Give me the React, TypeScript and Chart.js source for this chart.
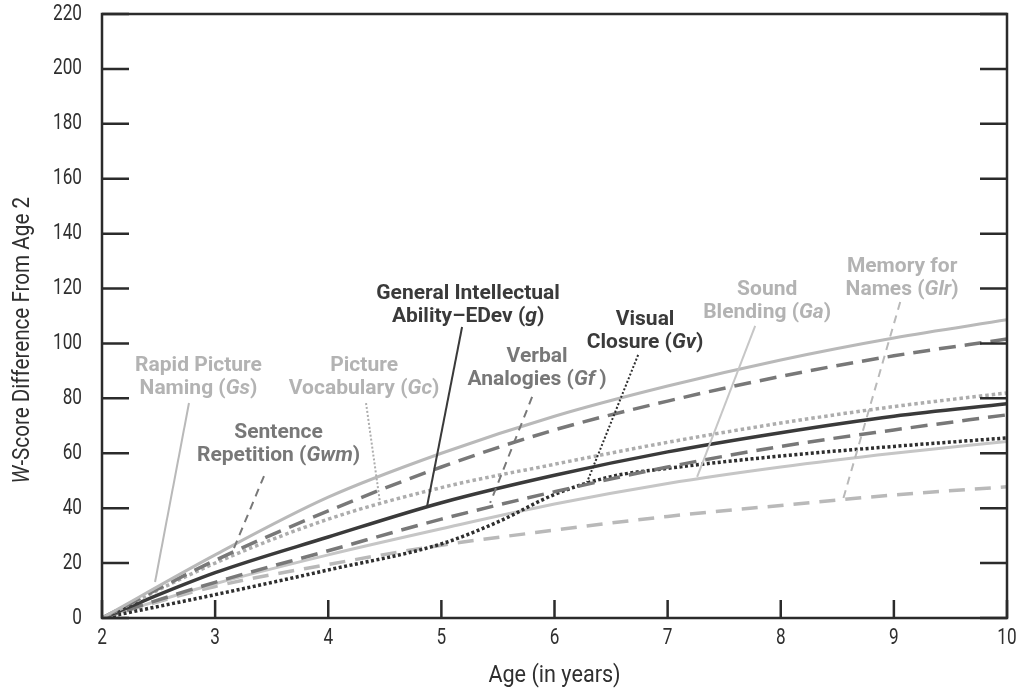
import React, { useEffect, useRef } from "react";
import { Chart, registerables } from "chart.js";

Chart.register(...registerables);

// ---- data ----
const ages = [2, 3, 4, 5, 6, 7, 8, 9, 10];
const gvAges = [2, 3, 4, 5, 5.5, 6, 6.5, 7, 8, 9, 10];

const gsValues = [0, 23, 44, 60, 73.5, 84.5, 94, 102, 108.6];
const gwmValues = [0, 21, 39, 55, 68.5, 79, 88, 95.5, 101.6];
const gcValues = [0, 20, 36, 47.5, 56, 64, 71, 77, 82];
const gValues = [0, 16.5, 29.5, 42, 52, 60.5, 67.5, 73.5, 78];
const gfValues = [0, 13, 24.5, 36, 46, 55, 62.5, 68.5, 74];
const gvValues = [0, 8.5, 17.5, 27, 35, 45, 51.5, 54.5, 59, 62.5, 65.6];
const gaValues = [0, 12.5, 23, 32.5, 41.5, 49, 55, 60, 64.3];
const glrValues = [0, 11.5, 19.5, 26.5, 32, 37, 41, 44.8, 47.8];

const xTicks = [2, 3, 4, 5, 6, 7, 8, 9, 10];
const yTicks = [0, 20, 40, 60, 80, 100, 120, 140, 160, 180, 200, 220];

const xTitle = "Age (in years)";
// odd-indexed parts are italic
const yTitle = ["", "W", "-Score Difference From Age 2"];

// labels (underscored parts are italic)
const labelText = [
  ["Rapid Picture", "Naming (_Gs_)"],
  ["Sentence", "Repetition (_Gwm_)"],
  ["Picture", "Vocabulary (_Gc_)"],
  ["General Intellectual", "Ability–EDev (_g_)"],
  ["Verbal", "Analogies (_Gf_\u2009)"],
  ["Visual", "Closure (_Gv_)"],
  ["Sound", "Blending (_Ga_)"],
  ["Memory for", "Names (_Glr_)"],
];
const labelAt = [
  [2.853, 91.8],
  [3.561, 67.4],
  [4.317, 91.8],
  [5.236, 118.0],
  [5.846, 95.1],
  [6.801, 108.6],
  [7.88, 119.5],
  [9.073, 127.9],
];
const leaderFrom = [
  [2.769, 78.3],
  [3.432, 51.7],
  [4.334, 78.3],
  [5.183, 106.0],
  [5.802, 80.5],
  [6.739, 95.8],
  [7.774, 106.4],
  [9.056, 115.1],
];
const leaderTo = [
  [2.469, 13.1],
  [3.149, 23.7],
  [4.458, 41.9],
  [4.874, 40.8],
  [5.431, 41.9],
  [6.288, 49.5],
  [7.261, 51.4],
  [8.552, 43.4],
];

// ---- styles ----
const DARK = "#3a3a3a";
const MID = "#787878";
const LIGHT = "#b9b9b9";
const LIGHT_TEXT = "#b3b3b3";

const seriesStyle = [
  { color: LIGHT, dash: [] as number[], width: 3, leaderDash: [] as number[] },
  { color: MID, dash: [17, 9], width: 3.5, leaderDash: [8, 6] },
  { color: "#adadad", dash: [3.5, 3], width: 3.5, leaderDash: [2, 2] },
  { color: DARK, dash: [], width: 3.5, leaderDash: [] },
  { color: MID, dash: [17, 9], width: 3.5, leaderDash: [8, 6] },
  { color: "#2e2e2e", dash: [3, 2.5], width: 3.5, leaderDash: [2, 2] },
  { color: "#c6c6c6", dash: [], width: 3, leaderDash: [] },
  { color: LIGHT, dash: [16, 10], width: 3.5, leaderDash: [8, 6] },
];
const labelColor = [LIGHT_TEXT, MID, LIGHT_TEXT, DARK, MID, DARK, LIGHT_TEXT, LIGHT_TEXT];

const toXY = (xs: number[], ys: number[]) => ys.map((y, i) => ({ x: xs[i], y }));

function drawRich(
  ctx: CanvasRenderingContext2D,
  parts: string[],
  cx: number,
  cy: number,
  size: number,
  weight: string,
  color: string,
  sx: number,
  align: "center" | "right" = "center",
  rotate = 0
) {
  const fonts = parts.map((_, k) => `${k % 2 ? "italic " : ""}${weight} ${size}px Roboto`);
  let total = 0;
  const widths = parts.map((p, k) => {
    ctx.font = fonts[k];
    const w = ctx.measureText(p).width;
    total += w;
    return w;
  });
  ctx.save();
  ctx.translate(cx, cy);
  if (rotate) ctx.rotate(rotate);
  ctx.scale(sx, 1);
  ctx.fillStyle = color;
  ctx.textBaseline = "middle";
  ctx.textAlign = "left";
  let x = align === "center" ? -total / 2 : -total;
  parts.forEach((p, k) => {
    ctx.font = fonts[k];
    ctx.fillText(p, x, 0);
    x += widths[k];
  });
  ctx.restore();
}

const decorPlugin = {
  id: "decor",
  afterDraw(chart: any) {
    const ctx: CanvasRenderingContext2D = chart.ctx;
    const { left, right, top, bottom } = chart.chartArea;
    const xs = chart.scales.x;
    const ys = chart.scales.y;
    const AX = "#2b2b2b";

    ctx.save();
    // frame
    ctx.strokeStyle = AX;
    ctx.lineWidth = 2.5;
    ctx.setLineDash([]);
    ctx.strokeRect(left, top, right - left, bottom - top);
    // ticks (inward)
    ctx.beginPath();
    yTicks.forEach((v) => {
      const py = ys.getPixelForValue(v);
      ctx.moveTo(left, py);
      ctx.lineTo(left + 27, py);
      ctx.moveTo(right, py);
      ctx.lineTo(right - 27, py);
    });
    xTicks.forEach((v) => {
      const px = xs.getPixelForValue(v);
      ctx.moveTo(px, bottom);
      ctx.lineTo(px, bottom - 18);
    });
    ctx.stroke();

    // tick labels
    yTicks.forEach((v) => {
      drawRich(ctx, [String(v)], left - 20, ys.getPixelForValue(v), 22, "normal", "#2f2f2f", 0.78, "right");
    });
    xTicks.forEach((v) => {
      drawRich(ctx, [String(v)], xs.getPixelForValue(v), bottom + 20, 22, "normal", "#2f2f2f", 0.78, "center");
    });

    // axis titles
    drawRich(ctx, [xTitle], (left + right) / 2, bottom + 58, 24, "normal", "#2f2f2f", 0.9, "center");
    drawRich(ctx, yTitle, 23, top + (bottom - top) * 0.54, 24, "normal", "#2f2f2f", 0.86, "center", -Math.PI / 2);

    // leaders
    leaderFrom.forEach((f, i) => {
      const t = leaderTo[i];
      const st = seriesStyle[i];
      ctx.beginPath();
      ctx.strokeStyle = st.color;
      ctx.lineWidth = 2;
      ctx.setLineDash(st.leaderDash);
      ctx.moveTo(xs.getPixelForValue(f[0]), ys.getPixelForValue(f[1]));
      ctx.lineTo(xs.getPixelForValue(t[0]), ys.getPixelForValue(t[1]));
      ctx.stroke();
    });
    ctx.setLineDash([]);

    // labels
    labelText.forEach((lines, i) => {
      const cx = xs.getPixelForValue(labelAt[i][0]);
      const cy = ys.getPixelForValue(labelAt[i][1]);
      lines.forEach((ln, k) => {
        drawRich(ctx, ln.split("_"), cx, cy + k * 23, 21, "bold", labelColor[i], 1.0, "center");
      });
    });
    ctx.restore();
  },
};

export default function App() {
  const ref = useRef<HTMLCanvasElement | null>(null);
  useEffect(() => {
    if (!ref.current) return;
    const series = [
      toXY(ages, gsValues),
      toXY(ages, gwmValues),
      toXY(ages, gcValues),
      toXY(ages, gValues),
      toXY(ages, gfValues),
      toXY(gvAges, gvValues),
      toXY(ages, gaValues),
      toXY(ages, glrValues),
    ];
    const names = ["Gs", "Gwm", "Gc", "g", "Gf", "Gv", "Ga", "Glr"];
    const chart = new Chart(ref.current, {
      type: "line",
      data: {
        datasets: series.map((d, i) => ({
          label: names[i],
          data: d,
          borderColor: seriesStyle[i].color,
          borderWidth: seriesStyle[i].width,
          borderDash: seriesStyle[i].dash,
          borderCapStyle: "butt" as const,
          pointRadius: 0,
          fill: false,
          cubicInterpolationMode: "monotone" as const,
        })),
      },
      options: {
        animation: false,
        responsive: false,
        devicePixelRatio: 1,
        layout: { padding: { left: 0, top: 14, right: 17, bottom: 0 } },
        plugins: { legend: { display: false }, tooltip: { enabled: false } },
        scales: {
          x: {
            type: "linear",
            min: 2,
            max: 10,
            ticks: { display: false, stepSize: 1 },
            grid: { display: false },
            border: { display: false },
            afterFit: (s: any) => {
              s.height = 76;
            },
          },
          y: {
            min: 0,
            max: 220,
            ticks: { display: false, stepSize: 20 },
            grid: { display: false },
            border: { display: false },
            afterFit: (s: any) => {
              s.width = 102;
            },
          },
        },
      },
      plugins: [decorPlugin],
    });
    return () => chart.destroy();
  }, []);
  return (
    <div style={{ position: "fixed", left: 0, top: 0, width: 1024, height: 694, background: "#fff" }}>
      <canvas ref={ref} width={1024} height={694} style={{ width: 1024, height: 694 }} />
    </div>
  );
}
